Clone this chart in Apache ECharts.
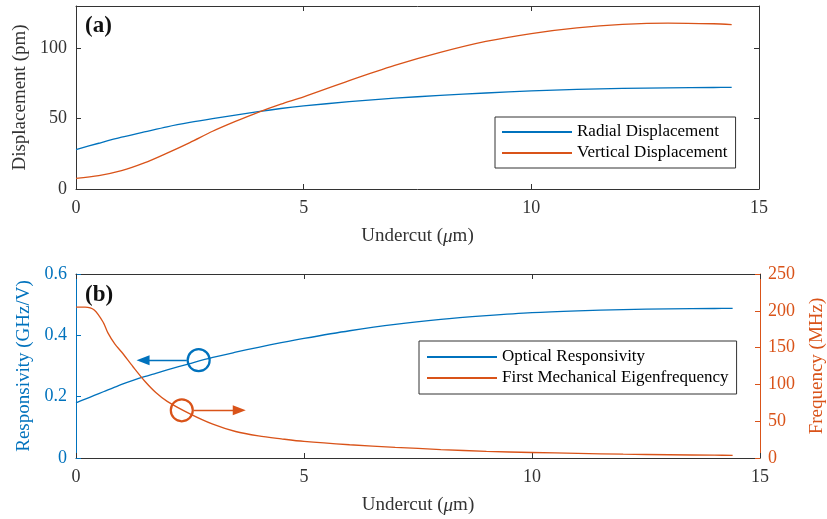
<!DOCTYPE html>
<html>
<head>
<meta charset="utf-8">
<script src="https://cdn.jsdelivr.net/npm/echarts@6/dist/echarts.min.js"></script>
<style>
  html, body { margin: 0; padding: 0; background: #fff; }
  #chart { width: 827px; height: 519px; }
</style>
</head>
<body>
<div id="chart"></div>
<script>
// panel (a): displacement vs undercut
const undercutA = [0, 0.5, 1, 1.5, 2, 2.5, 3, 3.5, 4, 4.5, 5, 6, 7, 8, 9, 10, 11, 12, 13, 14, 14.4]
const radialDisp = [28, 32.5, 36.8, 40.5, 44.2, 47.3, 50, 52.5, 55, 57.2, 59, 62, 64.5, 66.5, 68.2, 69.7, 70.8, 71.5, 71.9, 72.1, 72.2]
const verticalDisp = [7.6, 9.5, 13, 18.5, 25.5, 33, 41, 48, 54.5, 60.3, 65.5, 77, 87.8, 97, 104.8, 110.4, 114.4, 116.9, 117.9, 117.4, 116.8]

// panel (b): responsivity and eigenfrequency vs undercut
const undercutB = [0, 0.2, 0.4, 0.6, 0.7, 0.85, 1, 1.25, 1.5, 1.75, 2, 2.5, 3, 3.5, 4, 4.5, 5, 6, 7, 8, 9, 10, 11, 12, 13, 14, 14.4]
const responsivity = [0.18, 0.192, 0.204, 0.216, 0.222, 0.231, 0.24, 0.253, 0.265, 0.276, 0.287, 0.308, 0.328, 0.345, 0.361, 0.376, 0.39, 0.415, 0.436, 0.452, 0.464, 0.474, 0.48, 0.484, 0.486, 0.4875, 0.488]
const frequency = [205, 205, 201, 184, 170, 155, 144, 124, 105, 89, 77, 60, 46, 36, 30, 26, 22.5, 18, 14.5, 11.5, 9, 7.5, 6.3, 5.2, 4.4, 3.8, 3.6]

// annotation markers: circle on curve + arrow pointing to its axis
const respMarker = [2.69, 0.319]
const respArrow = [[2.43, 0.319], [1.47, 0.319]]
const freqMarker = [2.32, 64.8]
const freqArrow = [[2.58, 64.8], [3.58, 64.8]]

const blue = '#0072BD'
const orange = '#D95319'
const grey = '#333333'
const serif = 'Liberation Serif'

const pairs = (xs, ys) => xs.map((x, i) => [x, ys[i]])

const chart = echarts.init(document.getElementById('chart'))

const xBase = (gridIndex, withLabels) => ({
  type: 'value',
  gridIndex: gridIndex,
  min: 0,
  max: 15,
  interval: 5,
  splitLine: { show: false },
  axisLine: { show: true, onZero: false, lineStyle: { color: grey, width: 1 } },
  axisTick: { show: true, inside: true, length: 5, lineStyle: { color: grey } },
  axisLabel: { show: withLabels, margin: 10, color: grey, fontFamily: serif, fontSize: 18 },
  name: withLabels ? 'Undercut ({i|μ}m)' : '',
  nameLocation: 'middle',
  nameGap: 38,
  nameTextStyle: {
    color: grey, fontFamily: serif, fontSize: 19,
    rich: { i: { fontStyle: 'italic', fontFamily: serif, fontSize: 19, color: grey } }
  }
})

const yBase = (gridIndex, max, interval, color, pos) => ({
  type: 'value', gridIndex: gridIndex, min: 0, max: max, interval: interval, position: pos,
  splitLine: { show: false },
  axisLine: { show: true, onZero: false, lineStyle: { color: color } },
  axisTick: { show: true, inside: true, length: 5, lineStyle: { color: color } },
  axisLabel: { margin: 9, color: color, fontFamily: serif, fontSize: 18 }
})

const legendBase = {
  orient: 'vertical', itemGap: 3,
  icon: 'rect', itemWidth: 70, itemHeight: 2,
  borderColor: grey, borderWidth: 1, backgroundColor: '#fff',
  selectedMode: false,
  textStyle: { fontFamily: serif, fontSize: 17, color: '#000', lineHeight: 18 }
}

const option = {
  animation: false,
  title: [
    { text: '(a)', left: 80, top: 10, textStyle: { fontFamily: serif, fontWeight: 'bold', fontSize: 23, color: '#111' } },
    { text: '(b)', left: 80, top: 279, textStyle: { fontFamily: serif, fontWeight: 'bold', fontSize: 23, color: '#111' } }
  ],
  grid: [
    { left: 76, top: 6, width: 683, height: 183, outerBoundsMode: 'none' },
    { left: 76, top: 274, width: 684, height: 184, outerBoundsMode: 'none' }
  ],
  legend: [
    Object.assign({}, legendBase, {
      data: ['Radial Displacement', 'Vertical Displacement'],
      left: 495, top: 117, padding: [6, 8, 6, 7]
    }),
    Object.assign({}, legendBase, {
      data: ['Optical Responsivity', 'First Mechanical Eigenfrequency'],
      left: 419, top: 341, padding: [7, 8, 7, 8]
    })
  ],
  xAxis: [
    xBase(0, true),
    Object.assign(xBase(0, false), { position: 'top' }),
    xBase(1, true),
    Object.assign(xBase(1, false), { position: 'top' })
  ],
  yAxis: [
    Object.assign(yBase(0, 130, 50, grey, 'left'), {
      axisLabel: {
        margin: 9, color: grey, fontFamily: serif, fontSize: 18,
        formatter: (v) => (v % 50 === 0 ? String(v) : '')
      },
      name: 'Displacement (pm)', nameLocation: 'middle', nameRotate: 90, nameGap: 40,
      nameTextStyle: { color: grey, fontFamily: serif, fontSize: 19 }
    }),
    Object.assign(yBase(0, 130, 50, grey, 'right'), { axisLabel: { show: false } }),
    Object.assign(yBase(1, 0.6, 0.2, blue, 'left'), {
      axisLabel: { margin: 9, color: blue, fontFamily: serif, fontSize: 18, formatter: (v) => (v === 0 ? '0' : v.toFixed(1)) },
      name: 'Responsivity (GHz/V)', nameLocation: 'middle', nameRotate: 90, nameGap: 38,
      nameTextStyle: { color: blue, fontFamily: serif, fontSize: 19 }
    }),
    Object.assign(yBase(1, 250, 50, orange, 'right'), {
      axisLabel: { margin: 8, color: orange, fontFamily: serif, fontSize: 18 },
      name: 'Frequency (MHz)', nameLocation: 'middle', nameRotate: 90, nameGap: 48,
      nameTextStyle: { color: orange, fontFamily: serif, fontSize: 19 }
    })
  ],
  series: [
    {
      name: 'Radial Displacement', type: 'line', xAxisIndex: 0, yAxisIndex: 0,
      data: pairs(undercutA, radialDisp), symbol: 'none', smooth: 0.3,
      color: blue, lineStyle: { width: 1.3, color: blue }
    },
    {
      name: 'Vertical Displacement', type: 'line', xAxisIndex: 0, yAxisIndex: 0,
      data: pairs(undercutA, verticalDisp), symbol: 'none', smooth: 0.3,
      color: orange, lineStyle: { width: 1.3, color: orange }
    },
    {
      name: 'Optical Responsivity', type: 'line', xAxisIndex: 2, yAxisIndex: 2,
      data: pairs(undercutB, responsivity), symbol: 'none', smooth: 0.3,
      color: blue, lineStyle: { width: 1.3, color: blue },
      markPoint: {
        silent: true, animation: false,
        symbol: 'circle', symbolSize: 22,
        itemStyle: { color: 'rgba(0,0,0,0)', borderColor: blue, borderWidth: 2.2 },
        label: { show: false },
        data: [{ coord: respMarker }]
      },
      markLine: {
        silent: true, animation: false,
        symbol: ['none', 'triangle'], symbolSize: [10, 13],
        lineStyle: { color: blue, width: 1.3, type: 'solid' },
        label: { show: false },
        data: [[{ coord: respArrow[0] }, { coord: respArrow[1] }]]
      }
    },
    {
      name: 'First Mechanical Eigenfrequency', type: 'line', xAxisIndex: 2, yAxisIndex: 3,
      data: pairs(undercutB, frequency), symbol: 'none', smooth: 0.3,
      color: orange, lineStyle: { width: 1.3, color: orange },
      markPoint: {
        silent: true, animation: false,
        symbol: 'circle', symbolSize: 22,
        itemStyle: { color: 'rgba(0,0,0,0)', borderColor: orange, borderWidth: 2.2 },
        label: { show: false },
        data: [{ coord: freqMarker }]
      },
      markLine: {
        silent: true, animation: false,
        symbol: ['none', 'triangle'], symbolSize: [10, 13],
        lineStyle: { color: orange, width: 1.3, type: 'solid' },
        label: { show: false },
        data: [[{ coord: freqArrow[0] }, { coord: freqArrow[1] }]]
      }
    }
  ]
}

chart.setOption(option)
</script>
</body>
</html>
